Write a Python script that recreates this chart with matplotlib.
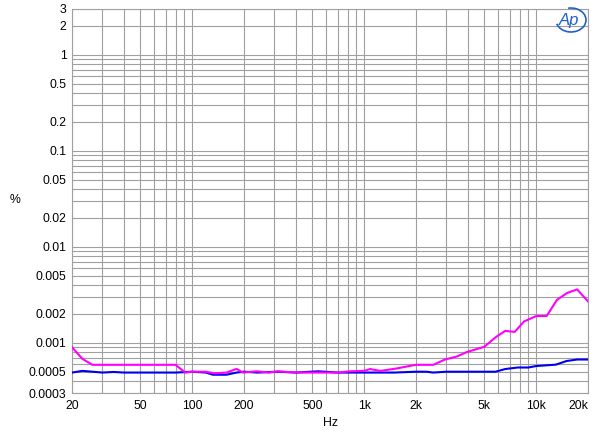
import numpy as np
import matplotlib.pyplot as plt
from matplotlib.ticker import FixedLocator, LogLocator, NullFormatter
from matplotlib.patches import Arc

plt.rcParams['font.family'] = ['Liberation Sans', 'DejaVu Sans']

# ── Data ──────────────────────────────────────────────────────────────────────
freq_mag = [20, 23, 26.3, 35, 50, 70, 80, 91, 100, 120, 135, 158, 181, 197,
            237, 280, 315, 400, 540, 700, 826, 1000, 1080, 1240, 1540, 1800,
            2000, 2520, 2950, 3460, 3940, 5000, 5800, 6600, 7500, 8500,
            10000, 11500, 13200, 15100, 17300, 20000]
thd_mag = [0.0009, 0.00068, 0.00059, 0.00059, 0.00059, 0.00059, 0.00059,
           0.00049, 0.0005, 0.0005, 0.00048, 0.00049, 0.000535, 0.00049,
           0.000505, 0.00049, 0.000505, 0.00049, 0.00049, 0.00049, 0.000505,
           0.00051, 0.000533, 0.00051, 0.00054, 0.00057, 0.00059, 0.00059,
           0.00067, 0.00072, 0.0008, 0.00091, 0.00114, 0.00133, 0.0013,
           0.00167, 0.0019, 0.0019, 0.0028, 0.0033, 0.0036, 0.0027]

freq_blue = [20, 23, 26.3, 30, 35, 40, 60, 80, 100, 120, 132, 158, 181, 200,
             240, 315, 400, 540, 700, 1000, 1500, 2000, 2300, 2520, 3000,
             4000, 5000, 5800, 6600, 7800, 9000, 10000, 13000, 15000, 17300,
             20000]
thd_blue = [0.00049, 0.00051, 0.0005, 0.00049, 0.000497, 0.00049, 0.00049,
            0.00049, 0.0005, 0.00049, 0.000465, 0.000465, 0.00049, 0.0005,
            0.00049, 0.0005, 0.00049, 0.000505, 0.00049, 0.00049, 0.00049,
            0.0005, 0.0005, 0.00049, 0.0005, 0.0005, 0.0005, 0.0005,
            0.000533, 0.000553, 0.000553, 0.000573, 0.000592, 0.000646,
            0.00067, 0.00067]

x_ticks = [20, 50, 100, 200, 500, 1000, 2000, 5000, 10000, 20000]
x_labels = ["20", "50", "100", "200", "500", "1k", "2k", "5k", "10k", "20k"]
y_ticks = [3, 2, 1, 0.5, 0.2, 0.1, 0.05, 0.02, 0.01, 0.005, 0.002, 0.001,
           0.0005, 0.0003]
y_labels = ["3", "2", "1", "0.5", "0.2", "0.1", "0.05", "0.02", "0.01",
            "0.005", "0.002", "0.001", "0.0005", "0.0003"]

# ── Figure ────────────────────────────────────────────────────────────────────
fig = plt.figure(figsize=(6, 4.36), dpi=100)
ax = fig.add_axes([0.12, 0.0986, 0.86, 0.8808])

ax.plot(freq_blue, thd_blue, color="#0000ee", linewidth=1.5, zorder=3)
ax.plot(freq_mag, thd_mag, color="#ff00ff", linewidth=1.5, zorder=4)

ax.set_xscale("log")
ax.set_yscale("log")
ax.set_xlim(20, 20000)
ax.set_ylim(0.0003, 3)

ax.xaxis.set_major_locator(FixedLocator(x_ticks))
ax.set_xticklabels(x_labels)
ax.xaxis.set_minor_locator(LogLocator(base=10, subs=np.arange(1, 10)))
ax.xaxis.set_minor_formatter(NullFormatter())
ax.yaxis.set_major_locator(FixedLocator(y_ticks))
ax.set_yticklabels(y_labels)
ax.yaxis.set_minor_locator(LogLocator(base=10, subs=np.arange(1, 10)))
ax.yaxis.set_minor_formatter(NullFormatter())

ax.tick_params(which="both", length=0, labelsize=8.8, colors="black")
ax.tick_params(axis="y", pad=4)
ax.tick_params(axis="x", pad=5)
ax.get_xticklabels()[-1].set_horizontalalignment("right")

ax.grid(which="both", color="#a0a0a0", linewidth=0.8)
ax.set_axisbelow(True)
for sp in ax.spines.values():
    sp.set_color("#a0a0a0")
    sp.set_linewidth(0.8)

fig.text(15 / 600, 1 - 200 / 436, "%", fontsize=8.8, ha="center", va="center")
fig.text(330 / 600, 1 - 423 / 436, "Hz", fontsize=8.8, ha="center", va="center")

# Ap logo
fig.text(569 / 600, 1 - 20 / 436, "Ap", fontsize=12, color="#2060c8",
         style="italic", ha="center", va="center")
fig.add_artist(Arc((571 / 600, 1 - 20 / 436), 30 / 600, 24 / 436,
                   theta1=200, theta2=100, color="#2060c8", linewidth=1.2,
                   transform=fig.transFigure))

fig.savefig("out.png", dpi=100)
